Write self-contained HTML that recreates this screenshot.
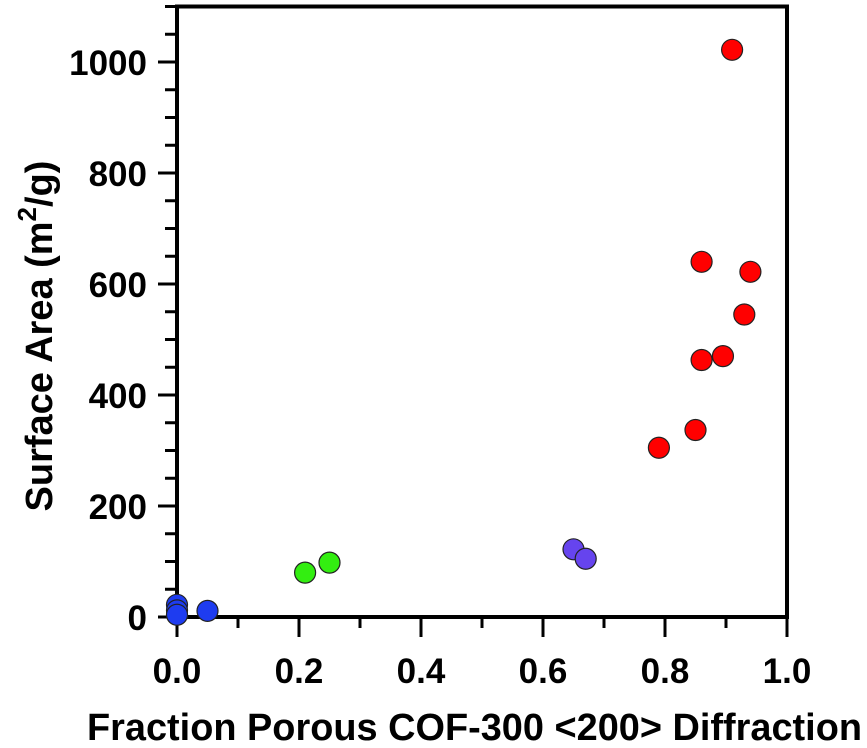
<!DOCTYPE html>
<html><head><meta charset="utf-8"><style>
body{margin:0;background:#fff}
svg text{font-family:"Liberation Sans",Arial,sans-serif;font-weight:bold;fill:#000}
</style></head><body>
<svg id="chart" width="867" height="743">
<g id="axes"></g><g id="points"></g>
</svg>
<script>
const xVals=[0,0,0,0.05,0.21,0.25,0.65,0.67,0.79,0.85,0.86,0.895,0.86,0.93,0.94,0.91];
const yVals=[22,12,4,11,80,98,122,105,305,337,463,470,640,545,622,1022];
const groups=["blue","blue","blue","blue","green","green","purple","purple","red","red","red","red","red","red","red","red"];
const xTicks=[0,0.2,0.4,0.6,0.8,1.0];
const xTickLabels=["0.0","0.2","0.4","0.6","0.8","1.0"];
const yTicks=[0,200,400,600,800,1000];
const yTickLabels=["0","200","400","600","800","1000"];
const colors={blue:"#1e3cf0",green:"#33ee11",purple:"#6644ee",red:"#ff0000"};
const X0=177,X1=787,Y0=617,YTOP=62;
const xs=v=>X0+(X1-X0)*v;
const ys=v=>Y0-(Y0-YTOP)*v/1000;
const NS="http://www.w3.org/2000/svg";
const axes=document.getElementById('axes'),pts=document.getElementById('points');
function mk(tag,attrs,parent){const e=document.createElementNS(NS,tag);for(const k in attrs)e.setAttribute(k,attrs[k]);parent.appendChild(e);return e;}
let fr=mk('path',{d:`M${X0},${ys(1100)} H${X1} V${Y0} H${X0} Z`,fill:'none',stroke:'#000','stroke-width':4},axes);


for(let v=0;v<=1100;v+=50){
  const major=v%200===0;
  const t=mk('line',{x1:X0,x2:major?X0-19:X0-12,y1:ys(v),y2:ys(v),stroke:'#000','stroke-width':3},axes);
  
  
}
for(let v=0;v<=1.0001;v+=0.1){
  const major=Math.round(v*10)%2===0;
  const t=mk('line',{x1:xs(v),x2:xs(v),y1:Y0,y2:major?Y0+20:Y0+11,stroke:'#000','stroke-width':3},axes);
  
  
}
yTicks.forEach((v,i)=>{
  const t=mk('text',{x:147,y:ys(v)+13,'text-anchor':'end','font-size':35},axes);
  t.textContent=yTickLabels[i];
  
  
});
xTicks.forEach((v,i)=>{
  const t=mk('text',{x:xs(v),y:683,'text-anchor':'middle','font-size':35},axes);
  t.textContent=xTickLabels[i];
  
  
});
let xt=mk('text',{x:87,y:740,'font-size':38,textLength:775,lengthAdjust:'spacingAndGlyphs'},axes);
xt.textContent="Fraction Porous COF-300 <200> Diffraction";


let yt=mk('text',{transform:'translate(52,336) rotate(-90)','text-anchor':'middle','font-size':38},axes);
yt.innerHTML='Surface Area (m<tspan dy="-16" font-size="26">2</tspan><tspan dy="16">/g)</tspan>';


xVals.forEach((x,i)=>{
  const c=mk('circle',{cx:xs(x),cy:ys(yVals[i]),r:10.5,fill:colors[groups[i]],stroke:'#222','stroke-width':1.2},pts);
  
  
});
</script>
</body></html>
